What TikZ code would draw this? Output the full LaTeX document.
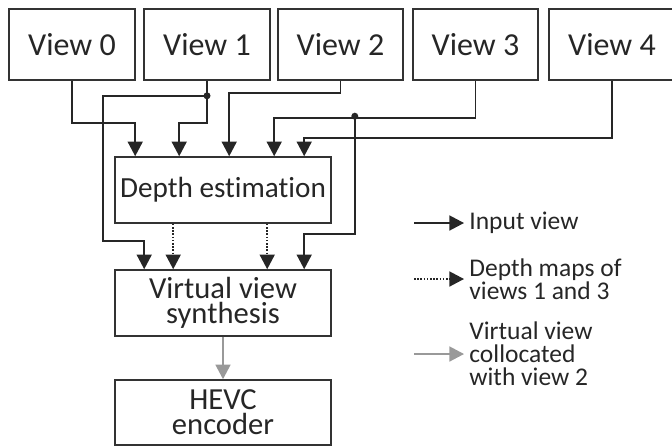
\documentclass[tikz,border=0pt]{standalone}
\usepackage{fontspec}
\setmainfont[Ligatures=NoCommon]{Carlito}
\usetikzlibrary{arrows.meta,positioning,calc}

\begin{document}
\begin{tikzpicture}[
  x=0.5pt,y=-0.5pt,
  box/.style={draw=black!80,line width=0.8pt,minimum width=63pt,minimum height=35.5pt,
              inner sep=0pt,align=center,text=black!85,
              font=\fontsize{15.3}{12.5}\selectfont},
  view/.style={box,font=\fontsize{16}{12.5}\selectfont},
  proc/.style={box,minimum width=108pt,minimum height=33pt},
  fl/.style={-{Triangle[length=7.3pt,width=7.5pt]},line width=0.8pt,draw=black!85},
  dep/.style={fl,dash pattern=on 0.8pt off 0.8pt},
  syn/.style={fl,draw=black!40,fill=black!40},
  leg/.style={anchor=west,align=left,inner sep=2.5pt,text=black!85,
              font=\fontsize{12.75}{11.5}\selectfont},
  dot/.style={circle,fill=black!85,inner sep=0pt,minimum size=3.5pt}
]
\useasboundingbox (0,0) rectangle (672,446);

% input views
\node[view] (v0) at (72,44.5)    {View 0};
\node[view] (v1) at (207,44.5)   {View 1};
\node[view,minimum width=62.5pt] (v2) at (340.5,44.5) {View 2};
\node[view,minimum width=62.5pt] (v3) at (475.5,44.5) {View 3};
\node[view] (v4) at (612,44.5)   {View 4};

% processing chain
\node[proc,font=\fontsize{14.6}{12.5}\selectfont] (de) at (223,190) {Depth estimation};
\node[proc] (vs)  at (223,303)   {Virtual view\\synthesis};
\node[proc,minimum height=32.5pt] (enc) at (223,412.5) {HEVC\\encoder};

% entry points
\coordinate (d0) at ($(de.north west)+(21,0)$);
\coordinate (d1) at ($(de.north west)+(65,0)$);
\coordinate (d2) at ($(de.north west)+(115,0)$);
\coordinate (d3) at ($(de.north west)+(160,0)$);
\coordinate (d4) at ($(de.north west)+(190,0)$);
\coordinate (s0) at ($(vs.north west)+(30,0)$);
\coordinate (s1) at ($(vs.north west)+(59,0)$);
\coordinate (s2) at ($(vs.north west)+(153,0)$);
\coordinate (s3) at ($(vs.north west)+(190,0)$);
\coordinate (e1) at ($(de.south west)+(59,0)$);
\coordinate (e2) at ($(de.south west)+(153,0)$);

% views to depth estimation
\draw[fl] (v0.south) -- ++(0,42) -| (d0);
\draw[fl] (v1.south) -- ++(0,42) -| (d1);
\draw[fl] (v2.south) -- ++(0,12) -| (d2);
\draw[fl] (v3.south) -- ++(0,37) -| (d3);
\draw[fl] (v4.south) -- ++(0,57) -| (d4);

% views 1 and 3 to synthesis
\node[dot] (j1) at ($(v1.south)+(0,15)$) {};
\node[dot] (j3) at ($(de.north east)+(23,-40)$) {};
\draw[fl] (j1.center) -| ($(j1)+(-104,145)$) -| (s0);
\draw[fl] (j3.center) -- ++(0,118) -| (s3);

% depth maps
\draw[dep] (e1) -- (s1);
\draw[dep] (e2) -- (s2);

% to encoder
\draw[syn] (vs) -- (enc);

% legend
\node[leg] (l1) at (464,223) {Input view};
\node[leg] (l2) at (464,279) {Depth maps of\\views 1 and 3};
\node[leg] (l3) at (464,354) {Virtual view\\collocated\\with view 2};
\coordinate (a1) at ($(l1.west)+(-50,0)$);
\coordinate (a2) at ($(l2.west)+(-50,0)$);
\coordinate (a3) at ($(l3.west)+(-50,0)$);
\draw[fl]  (a1) -- (l1.west);
\draw[dep] (a2) -- (l2.west);
\draw[syn] (a3) -- (l3.west);

\end{tikzpicture}
\end{document}
